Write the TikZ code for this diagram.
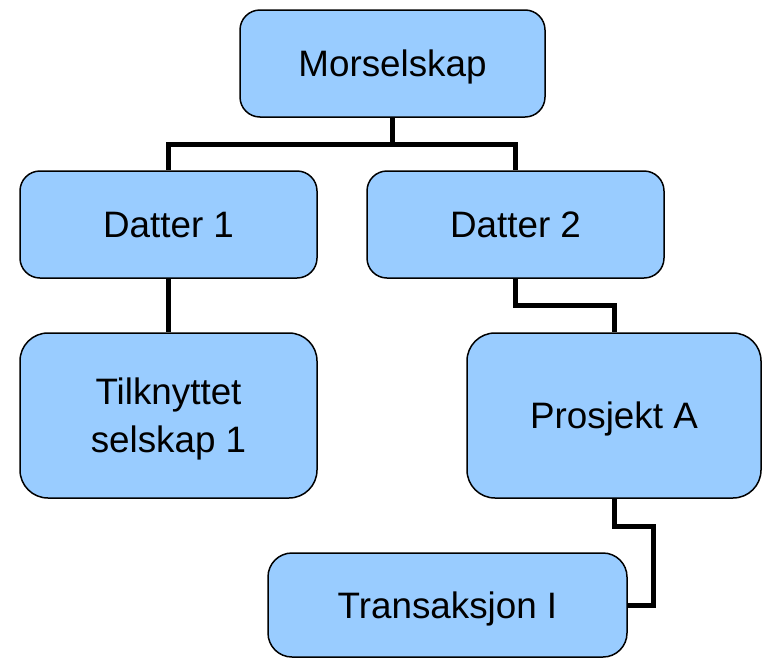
\documentclass[tikz,border=0pt]{standalone}
\usepackage{fontspec}
\setmainfont{Liberation Sans}
\definecolor{boxblue}{HTML}{99CCFF}
\begin{document}
\begin{tikzpicture}[x=1pt,y=1pt,
  orgbox/.style={draw=black, line width=1.5pt, fill=boxblue, rounded corners=20pt,
    align=center, inner sep=0pt, text depth=0pt, font=\fontsize{36.8}{48}\selectfont},
  bigbox/.style={orgbox, rounded corners=28pt},
  link/.style={draw=black, line width=5pt}]
\useasboundingbox (0,0) rectangle (762,-659);
\node[orgbox, minimum width=305pt, minimum height=107pt] (M) at (392.5,-63.5) {Morselskap};
\node[orgbox, minimum width=297pt, minimum height=107pt] (D1) at (168.5,-224.5) {Datter 1};
\node[orgbox, minimum width=297pt, minimum height=107pt] (D2) at (515.5,-224.5) {Datter 2};
\node[bigbox, minimum width=297pt, minimum height=165pt] (T1) at (168.5,-415.5) {Tilknyttet\\selskap 1};
\node[bigbox, minimum width=294pt, minimum height=165pt] (P) at (614,-415.5) {Prosjekt A};
\node[orgbox, minimum width=359pt, minimum height=104pt, rounded corners=24pt] (T) at (447.5,-605) {Transaksjon I};
\coordinate (mj) at (392.5,-144);
\coordinate (dj) at (515.5,-305);
\coordinate (pj) at (614,-526);
\coordinate (pk) at (653,-526);
\draw[link] (M.south) -- (mj) -| (D1.north);
\draw[link] (mj) -| (D2.north);
\draw[link] (D1.south) -- (T1.north);
\draw[link] (D2.south) -- (dj) -| (P.north);
\draw[link] (P.south) -- (pj) -- (pk) |- (T.east);
\end{tikzpicture}
\end{document}
